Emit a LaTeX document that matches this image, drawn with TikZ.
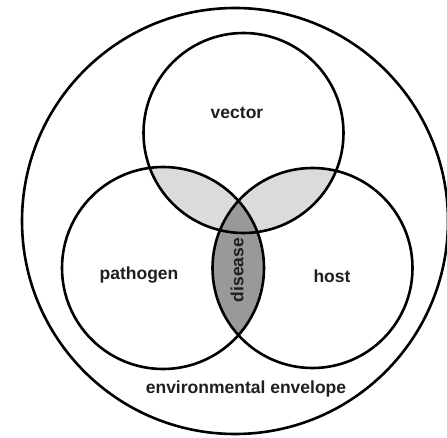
\documentclass[tikz,border=0pt]{standalone}
\usepackage{fontspec}
\setmainfont{Liberation Sans}
\begin{document}
\begin{tikzpicture}[x=1pt,y=-1pt,
  ring/.style={draw=black,line width=2.6pt,circle,inner sep=0pt},
  lbl/.style={font=\fontsize{17.5}{19}\selectfont\bfseries,text=black!88},
]
\useasboundingbox (0,0) rectangle (447,438);
\fill[white] (0,0) rectangle (447,438);
% shaded regions
\begin{scope}
  \clip (243.5,133) circle (100);
  \fill[black!14] (163,268) circle (101);
  \fill[black!14] (312.5,268) circle (100);
\end{scope}
\begin{scope}
  \clip (163,268) circle (101);
  \fill[black!40] (312.5,268) circle (100);
\end{scope}
% circles
\node[ring,minimum size=426pt] (env) at (235,221) {};
\node[ring,minimum size=200pt] (vec) at (243.5,133) {};
\node[ring,minimum size=202pt] (pat) at (163,268) {};
\node[ring,minimum size=200pt] (hos) at (312.5,268) {};
% labels
\node[lbl] (tvec) at (237,113) {vector};
\node[lbl] (tpat) at (139,275) {pathogen};
\node[lbl] (thos) at (332,276) {host};
\node[lbl,rotate=90] (tdis) at (237,270) {disease};
\node[lbl] (tenv) at (246,389) {environmental envelope};
\end{tikzpicture}
\end{document}
